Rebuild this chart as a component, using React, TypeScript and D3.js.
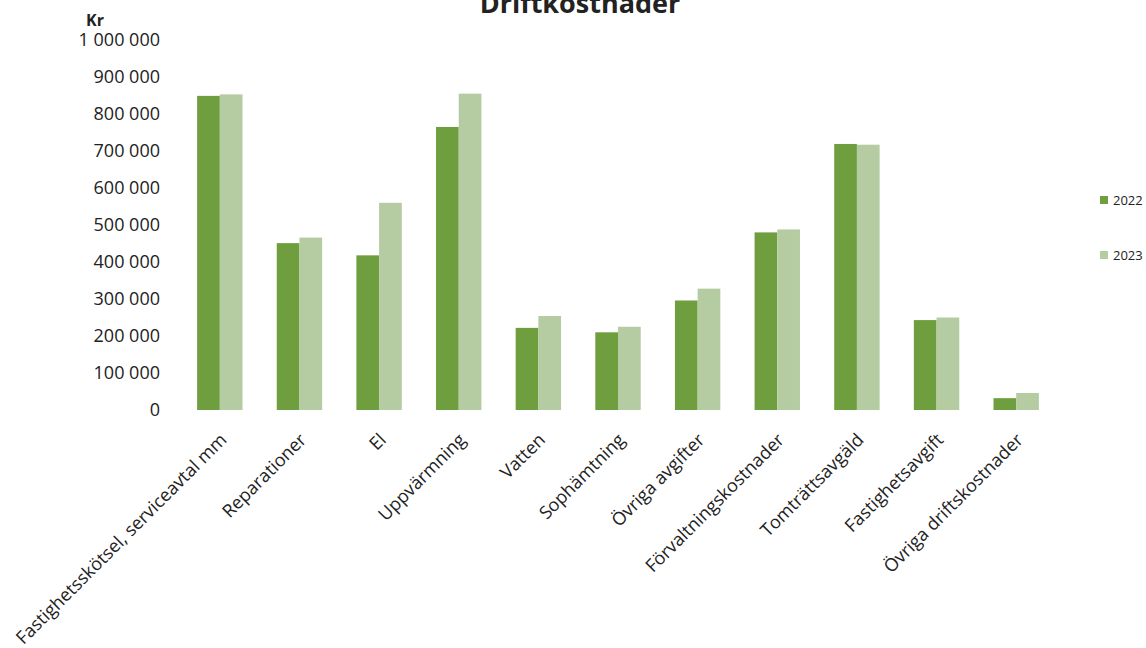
import React from "react";
import * as d3 from "d3";

const categories = [
  "Fastighetsskötsel, serviceavtal mm",
  "Reparationer",
  "El",
  "Uppvärmning",
  "Vatten",
  "Sophämtning",
  "Övriga avgifter",
  "Förvaltningskostnader",
  "Tomträttsavgäld",
  "Fastighetsavgift",
  "Övriga driftskostnader",
];
const values2022 = [849000, 451000, 418000, 765000, 222000, 210000, 296000, 480000, 719000, 243000, 32000];
const values2023 = [853000, 466000, 560000, 855000, 254000, 225000, 328000, 488000, 717000, 250000, 46000];
const seriesNames = ["2022", "2023"];
const yTicks = [0, 100000, 200000, 300000, 400000, 500000, 600000, 700000, 800000, 900000, 1000000];

const W = 1146;
const H = 648;
const colors = ["#6f9e3e", "#b5cba1"];
const font = "'Open Sans', sans-serif";

export default function App() {
  const x = d3.scaleBand<string>().domain(categories).range([180, 1056]).paddingInner(0.43).paddingOuter(0.215);
  const xs = d3.scaleBand<string>().domain(seriesNames).range([0, x.bandwidth()]);
  const y = d3.scaleLinear().domain([0, 1000000]).range([410, 40]);
  const fmt = (v: number) => d3.format(",")(v).replace(/,/g, " ");
  const series = [values2022, values2023];

  return (
    <svg width={W} height={H} style={{ position: "absolute", left: 0, top: 0, background: "#fff" }} fontFamily={font}>
      <text x={580} y={13} textAnchor="middle" fontSize={27} fontWeight="bold" fill="#222">Driftkostnader</text>
      <text x={86} y={26} fontSize={16} fontWeight="bold" fill="#222">Kr</text>
      {yTicks.map((t) => (
        <text key={t} x={160} y={y(t)} dy="0.35em" textAnchor="end" fontSize={18} fill="#222">{fmt(t)}</text>
      ))}
      {categories.map((c, i) => (
        <g key={c}>
          {series.map((vals, s) => (
            <rect key={s} x={(x(c) as number) + (xs(seriesNames[s]) as number)} y={y(vals[i])}
              width={xs.bandwidth()} height={y(0) - y(vals[i])} fill={colors[s]} />
          ))}
          <text transform={`translate(${(x(c) as number) + x.bandwidth() / 2 + 8},${441}) rotate(-45)`}
            textAnchor="end" fontSize={18} fill="#222">{c}</text>
        </g>
      ))}
      {seriesNames.map((s, i) => (
        <g key={s} transform={`translate(1100,${200 + i * 55})`}>
          <rect x={0} y={-4} width={8} height={8} fill={colors[i]} />
          <text x={13} y={0} dy="0.35em" fontSize={13} fill="#222">{s}</text>
        </g>
      ))}
    </svg>
  );
}
